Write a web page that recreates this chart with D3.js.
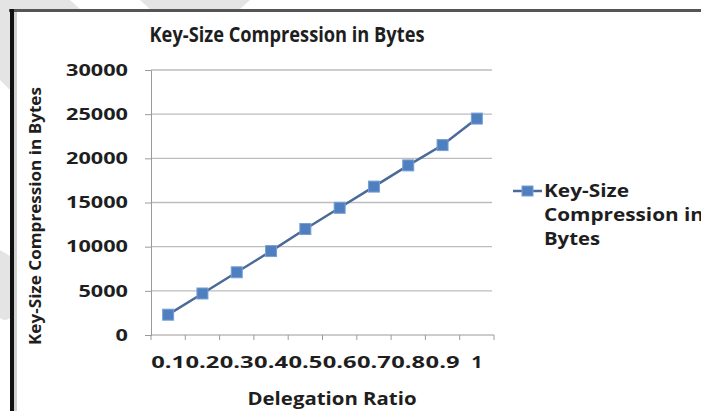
<!DOCTYPE html>
<html><head><meta charset="utf-8">
<script src="https://cdn.jsdelivr.net/npm/d3@7"></script>
<style>body{margin:0;background:#fff}svg{display:block}text{font-family:"Open Sans",sans-serif;font-weight:bold;fill:#1e1e1e}</style>
</head><body>
<svg id="c" width="701" height="411"></svg>
<script>
const categories = ["0.1","0.2","0.3","0.4","0.5","0.6","0.7","0.8","0.9","1"];
const values = [2300, 4700, 7100, 9500, 12000, 14400, 16800, 19200, 21500, 24500];
const yTicks = [0, 5000, 10000, 15000, 20000, 25000, 30000];
const seriesName = "Key-Size Compression in Bytes";
const legendLines = ["Key-Size", "Compression in", "Bytes"];

const svg = d3.select("#c");
// faint watermark shapes outside the frame
const wm = svg.append("g").attr("fill", "#e4e4e4");
wm.append("polygon").attr("points", "0,0 70,0 80,9 0,9");
wm.append("polygon").attr("points", "140,0 250,0 240,9 150,9");
wm.append("polygon").attr("points", "0,0 10,0 10,90 0,80");
wm.append("path").attr("d", "M0,250 L10,256 L10,318 Q5,322 0,318 Z");

// frame
svg.append("rect").attr("x", 9).attr("y", 9).attr("width", 700).attr("height", 3).attr("fill", "#555");
svg.append("rect").attr("x", 10).attr("y", 9).attr("width", 4).attr("height", 402).attr("fill", "#111");
svg.append("rect").attr("x", 14).attr("y", 12).attr("width", 3).attr("height", 399).attr("fill", "#d0d0d0");

const x = d3.scaleBand().domain(categories).range([151, 494]).padding(0);
const y = d3.scaleLinear().domain([0, 30000]).range([335, 70]);

// gridlines
svg.append("g").selectAll("line").data(yTicks.filter(d => d > 0)).join("line")
  .attr("x1", 151).attr("x2", 492).attr("y1", d => y(d)).attr("y2", d => y(d))
  .attr("stroke", "#bdbdbd").attr("stroke-width", 1.3);

// y axis
const ya = svg.append("g").attr("transform", "translate(151,0)")
  .call(d3.axisLeft(y).tickValues(yTicks).tickSize(6).tickPadding(17).tickFormat(d3.format("d")));
ya.select(".domain").attr("stroke", "#9a9a9a");
ya.selectAll(".tick line").attr("stroke", "#9a9a9a");
ya.selectAll(".tick text").attr("font-size", 16.5).attr("font-family", "'Open Sans',sans-serif")
  .attr("font-weight", "bold").attr("fill", "#1e1e1e").attr("textLength", d => String(d).length * 12.4)
  .attr("lengthAdjust", "spacingAndGlyphs");

// x axis
const xa = svg.append("g").attr("transform", "translate(0,335)");
xa.append("line").attr("x1", 151).attr("x2", 494).attr("stroke", "#9a9a9a");
xa.selectAll("line.t").data(d3.range(categories.length + 1)).join("line").attr("class", "t")
  .attr("x1", i => 151 + i * x.bandwidth()).attr("x2", i => 151 + i * x.bandwidth())
  .attr("y1", 0).attr("y2", 5).attr("stroke", "#9a9a9a");
xa.selectAll("text").data(categories).join("text")
  .attr("x", d => x(d) + x.bandwidth() / 2).attr("y", 33).attr("text-anchor", "middle")
  .attr("font-size", 16.5).attr("textLength", d => d.length * 11.3).attr("lengthAdjust", "spacingAndGlyphs")
  .text(d => d);

// line + markers
const line = d3.line().x((d, i) => x(categories[i]) + x.bandwidth() / 2).y(d => y(d));
svg.append("path").datum(values).attr("d", line).attr("fill", "none")
  .attr("stroke", "#4a6a98").attr("stroke-width", 2.5);
svg.append("g").selectAll("rect").data(values).join("rect")
  .attr("x", (d, i) => x(categories[i]) + x.bandwidth() / 2 - 5.5)
  .attr("y", d => y(d) - 5.5).attr("width", 11).attr("height", 11)
  .attr("fill", "#4f7fbf").attr("stroke", "#76a0d4").attr("stroke-width", 1);

// title
svg.append("text").attr("x", 287).attr("y", 42).attr("text-anchor", "middle")
  .attr("font-size", 22).attr("textLength", 275).attr("lengthAdjust", "spacingAndGlyphs")
  .text(seriesName);
// axis titles
svg.append("text").attr("x", 332).attr("y", 405).attr("text-anchor", "middle")
  .attr("font-size", 17).attr("textLength", 169).attr("lengthAdjust", "spacingAndGlyphs")
  .text("Delegation Ratio");
svg.append("text").attr("transform", "translate(41,216) rotate(-90)").attr("text-anchor", "middle")
  .attr("font-size", 16.5).attr("textLength", 258).attr("lengthAdjust", "spacingAndGlyphs")
  .text(seriesName);

// legend
const lg = svg.append("g");
lg.append("line").attr("x1", 513).attr("x2", 542).attr("y1", 191).attr("y2", 191)
  .attr("stroke", "#4a6a98").attr("stroke-width", 2.5);
lg.append("rect").attr("x", 522).attr("y", 186).attr("width", 11).attr("height", 10)
  .attr("fill", "#4f7fbf").attr("stroke", "#76a0d4");
const lw = [85, 160, 56];
lg.selectAll("text").data(legendLines).join("text")
  .attr("x", 544).attr("y", (d, i) => 197 + i * 24).attr("font-size", 17.5)
  .attr("textLength", (d, i) => lw[i]).attr("lengthAdjust", "spacingAndGlyphs")
  .text(d => d);
</script>
</body></html>
